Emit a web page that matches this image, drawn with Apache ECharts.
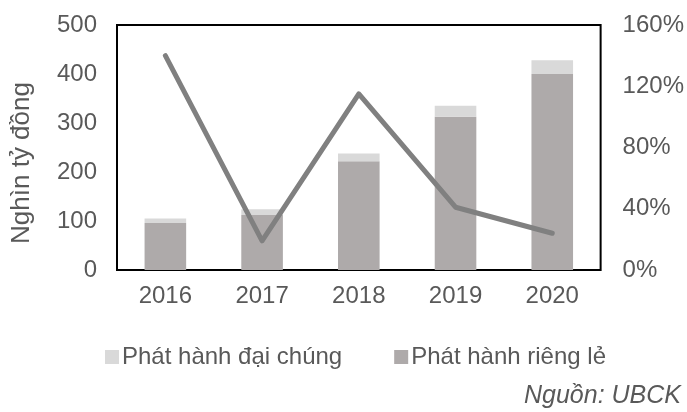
<!DOCTYPE html>
<html>
<head>
<meta charset="utf-8">
<script src="https://cdn.jsdelivr.net/npm/echarts@6/dist/echarts.min.js"></script>
<style>
html,body{margin:0;padding:0;background:#fff;}
#c{width:687px;height:412px;}
</style>
</head>
<body>
<div id="c"></div>
<script>
var categories = ['2016', '2017', '2018', '2019', '2020'];
var privateIssue = [96, 112, 222, 313, 400];   // Phát hành riêng lẻ
var publicIssue = [9, 12, 16, 22, 28];         // Phát hành đại chúng
var growthRate = [140, 19, 115, 41, 24];       // %
var leftTicks = [0, 100, 200, 300, 400, 500];
var rightTicks = [0, 40, 80, 120, 160];

var FONT = '"Liberation Sans", Arial, sans-serif';
var TXT = '#595959';

var chart = echarts.init(document.getElementById('c'));
chart.setOption({
  animation: false,
  textStyle: {fontFamily: FONT},
  grid: {
    left: 117, right: 84, top: 25, bottom: 142,
    show: true, borderColor: '#000', borderWidth: 2, backgroundColor: 'transparent'
  },
  legend: {
    data: ['Phát hành đại chúng', 'Phát hành riêng lẻ'],
    left: 100, top: 340,
    icon: 'rect', itemWidth: 14, itemHeight: 14, itemGap: 52,
    textStyle: {fontFamily: FONT, fontSize: 24, color: TXT, padding: [0, 0, 0, -2]}
  },
  xAxis: {
    type: 'category', data: categories,
    axisLine: {show: false}, axisTick: {show: false},
    axisLabel: {fontSize: 24, color: TXT, margin: 14, fontFamily: FONT}
  },
  yAxis: [{
    type: 'value', min: leftTicks[0], max: leftTicks[leftTicks.length - 1], interval: 100,
    axisLine: {show: false}, axisTick: {show: false}, splitLine: {show: false},
    axisLabel: {fontSize: 24, color: TXT, margin: 20, fontFamily: FONT}
  }, {
    type: 'value', min: rightTicks[0], max: rightTicks[rightTicks.length - 1], interval: 40,
    axisLine: {show: false}, axisTick: {show: false}, splitLine: {show: false},
    axisLabel: {fontSize: 24, color: TXT, margin: 22, fontFamily: FONT, formatter: '{value}%'}
  }],
  series: [{
    name: 'Phát hành riêng lẻ', type: 'bar', stack: 'total', data: privateIssue,
    barWidth: '43%', itemStyle: {color: '#aeaaaa'}
  }, {
    name: 'Phát hành đại chúng', type: 'bar', stack: 'total', data: publicIssue,
    barWidth: '43%', itemStyle: {color: '#d9d9d9'}
  }, {
    name: 'Tăng trưởng', type: 'line', yAxisIndex: 1, data: growthRate,
    symbol: 'none', lineStyle: {color: '#808080', width: 5, cap: 'round', join: 'round'}
  }],
  graphic: [{
    type: 'text', x: 22, y: 163, rotation: Math.PI / 2,
    style: {text: 'Nghìn tỷ đồng', font: '26px ' + FONT, fill: TXT, textAlign: 'center', textVerticalAlign: 'middle'}
  }, {
    type: 'text', x: 681, y: 396,
    style: {text: 'Nguồn: UBCK', font: 'italic 25px ' + FONT, fill: TXT, textAlign: 'right', textVerticalAlign: 'middle'}
  }]
});
</script>
</body>
</html>
